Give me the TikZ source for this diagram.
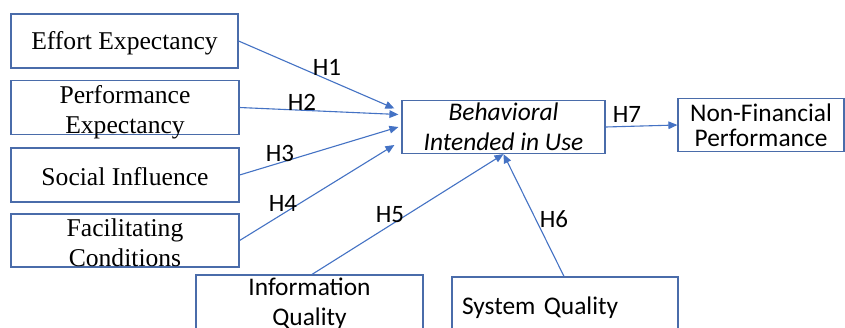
\documentclass[tikz,border=0pt]{standalone}
\usepackage{fontspec}
\setmainfont{Liberation Serif}
\newfontfamily\calib{Carlito}
\usetikzlibrary{arrows.meta}
\definecolor{boxc}{HTML}{4A6CAA}
\definecolor{arrc}{HTML}{4472C4}
\tikzset{
  serifbox/.style={draw=boxc, line width=0.6pt, minimum width=114pt, minimum height=27pt,
    inner sep=0pt},
  seriftext/.style={align=center, inner sep=0pt, font=\fontsize{12.8}{15}\selectfont},
  calbox/.style={draw=boxc, line width=0.6pt, inner sep=0pt, align=center,
    font=\calib\fontsize{12.7}{15}\selectfont},
  arr/.style={draw=arrc, line width=0.55pt, -{Triangle[length=4.5pt,width=3.8pt]}},
  hlab/.style={font=\calib\fontsize{12.5}{13}\selectfont, inner sep=0pt}
}
\begin{document}
\begin{tikzpicture}[x=0.5pt,y=-0.5pt]
\clip (0,0) rectangle (845,327);
\fill[white] (0,0) rectangle (845,327);
% left boxes
\node[serifbox, minimum width=113.5pt,
  label={[seriftext, yshift=-1pt]center:Effort Expectancy}] (ee) at (124.5,41) {};
\node[serifbox,
  label={[seriftext, yshift=-2.3pt]center:Performance\\Expectancy}] (pe) at (125,107.5) {};
\node[serifbox,
  label={[seriftext, yshift=-1pt]center:Social Influence}] (si) at (125,175) {};
\node[serifbox, minimum height=26.5pt,
  label={[seriftext, yshift=-1pt]center:Facilitating\\Conditions}] (fc) at (125,240.5) {};
% center / right
\node[calbox, minimum width=101.5pt, minimum height=26.5pt, font=\calib\itshape\fontsize{12.7}{15}\selectfont] (bi) at (503.5,127) {Behavioral\\Intended in Use};
\node[calbox, minimum width=83pt, minimum height=26.5pt, font=\calib\fontsize{12.7}{12.5}\selectfont] (nf) at (761,125) {Non-Financial\\Performance};
% bottom boxes
\node[calbox, minimum width=113.5pt, minimum height=29pt] (iq) at (309.5,304) {Information\\Quality};
\node[calbox, minimum width=113pt, minimum height=31pt, text width=103pt, align=left, inner xsep=5pt] (sq) at (565,308) {System Quality};
% arrows
\draw[arr] (ee.east) -- ([xshift=-3.5pt,yshift=9.25pt]bi.west);
\draw[arr] (pe.east) -- ([xshift=-1.5pt,yshift=6.25pt]bi.west);
\draw[arr] (si.east) -- ([xshift=-1.5pt,yshift=0pt]bi.west);
\draw[arr] (fc.east) -- ([xshift=-3.5pt,yshift=-9pt]bi.west);
\draw[arr] ([xshift=1.25pt]iq.north) -- (bi.south);
\draw[arr] ([xshift=-0.5pt]sq.north) -- (bi.south);
\draw[arr] (bi.east) -- (nf.west);
% labels
\node[hlab] (h1) at (327,67) {H1};
\node[hlab] (h2) at (302,102) {H2};
\node[hlab] (h3) at (280,153) {H3};
\node[hlab] (h4) at (283,203) {H4};
\node[hlab] (h5) at (390,215) {H5};
\node[hlab] (h6) at (554,219) {H6};
\node[hlab] (h7) at (627,114) {H7};
\end{tikzpicture}
\end{document}
